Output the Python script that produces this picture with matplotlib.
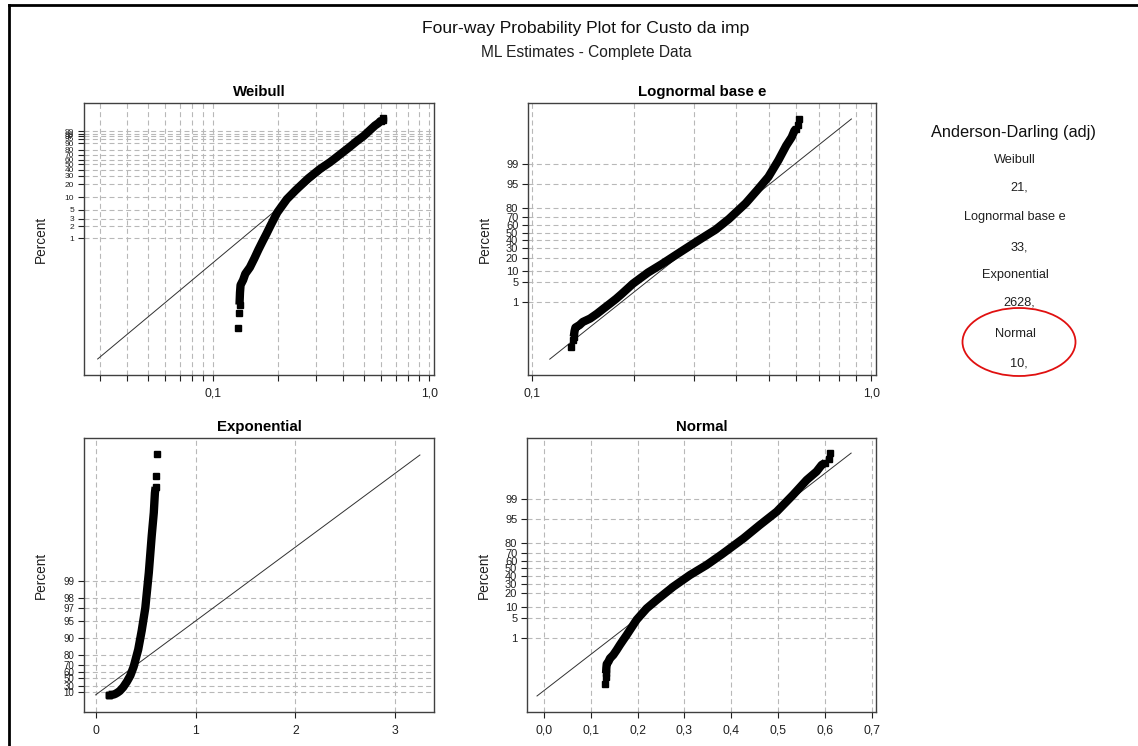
import math
import numpy as np
import matplotlib
matplotlib.use("Agg")
import matplotlib.pyplot as plt
from matplotlib.patches import Ellipse
from matplotlib.lines import Line2D
from matplotlib.ticker import FixedLocator, NullFormatter

plt.rcParams['font.family'] = ['Liberation Sans', 'DejaVu Sans']

# ---------------- data ----------------
# empirical distribution of "Custo da imp": value and plotting-position percent
sample_x = [0.1300, 0.1315, 0.1325, 0.1332, 0.1340, 0.1377, 0.1409, 0.1480,
            0.1552, 0.1620, 0.1694, 0.1767, 0.1836, 0.1980, 0.2193, 0.2407,
            0.2760, 0.3118, 0.3474, 0.3800, 0.4260, 0.4610, 0.4970, 0.5320,
            0.5610, 0.5820, 0.5930, 0.6000, 0.6090, 0.6110]
sample_pct = [0.0058, 0.0142, 0.0225, 0.045, 0.069, 0.092, 0.131, 0.19,
              0.317, 0.52, 0.84, 1.30, 1.97, 4.3, 9.0, 14.5,
              26.9, 41.1, 54.4, 68.0, 84.1, 92.6, 97.06, 99.29,
              99.84, 99.938, 99.972, 99.978, 99.986, 99.9942]
n_iso_low = 2    # isolated points at the bottom
n_iso_high = 2   # isolated points at the top

# fitted distributions (ML estimates)
weibull_shape, weibull_scale = 4.49, 0.380
logn_loc, logn_scale = -1.107, 0.2526
exp_mean = 0.334
norm_mean, norm_sd = 0.3378, 0.0827
line_pct = [0.001, 99.994]

# tick percents per panel
weibull_yticks = [1, 2, 3, 5, 10, 20, 30, 40, 50, 60, 70, 80, 90, 95, 97, 98, 99]
logn_yticks = [1, 5, 10, 20, 30, 40, 50, 60, 70, 80, 95, 99]
exp_yticks = [10, 30, 50, 60, 70, 80, 90, 95, 97, 98, 99]
norm_yticks = [1, 5, 10, 20, 30, 40, 50, 60, 70, 80, 95, 99]

weibull_xmajor = [0.1, 1.0]
weibull_xminor = [0.03, 0.04, 0.05, 0.06, 0.07, 0.08, 0.09,
                  0.2, 0.3, 0.4, 0.5, 0.6, 0.7, 0.8, 0.9]
logn_xmajor = [0.1, 1.0]
logn_xminor = [0.2, 0.3, 0.4, 0.5, 0.6, 0.7, 0.8, 0.9]
exp_xticks = [0, 1, 2, 3]
norm_xticks = [0.0, 0.1, 0.2, 0.3, 0.4, 0.5, 0.6, 0.7]

dist_names = ['Weibull', 'Lognormal base e', 'Exponential', 'Normal']
ad_values = ['21,', '33,', '2628,', '10,']

# ---------------- probability scale helpers ----------------
_a = [-3.969683028665376e+01, 2.209460984245205e+02, -2.759285104469687e+02,
      1.383577518672690e+02, -3.066479806614716e+01, 2.506628277459239e+00]
_b = [-5.447609879822406e+01, 1.615858368580409e+02, -1.556989798598866e+02,
      6.680131188771972e+01, -1.328068155288572e+01]
_c = [-7.784894002430293e-03, -3.223964580411365e-01, -2.400758277161838e+00,
      -2.549671348827961e+00, 4.374664141464968e+00, 2.938163982698783e+00]
_d = [7.784695709041462e-03, 3.224671290700398e-01, 2.445134137142996e+00,
      3.754408661907416e+00]


def norm_ppf(p):
    p = np.clip(np.asarray(p, dtype=float), 1e-300, 1 - 1e-16)
    out = np.empty_like(p)
    plow = 0.02425
    lo = p < plow
    hi = p > 1 - plow
    mid = ~(lo | hi)
    if lo.any():
        q = np.sqrt(-2 * np.log(p[lo]))
        out[lo] = (((((_c[0]*q+_c[1])*q+_c[2])*q+_c[3])*q+_c[4])*q+_c[5]) / \
                  ((((_d[0]*q+_d[1])*q+_d[2])*q+_d[3])*q+1)
    if hi.any():
        q = np.sqrt(-2 * np.log(1 - p[hi]))
        out[hi] = -(((((_c[0]*q+_c[1])*q+_c[2])*q+_c[3])*q+_c[4])*q+_c[5]) / \
                   ((((_d[0]*q+_d[1])*q+_d[2])*q+_d[3])*q+1)
    if mid.any():
        q = p[mid] - 0.5
        r = q * q
        out[mid] = (((((_a[0]*r+_a[1])*r+_a[2])*r+_a[3])*r+_a[4])*r+_a[5])*q / \
                   (((((_b[0]*r+_b[1])*r+_b[2])*r+_b[3])*r+_b[4])*r+1)
    return out


_erf = np.vectorize(math.erf)


def norm_cdf(z):
    return 0.5 * (1 + _erf(np.asarray(z, dtype=float) / math.sqrt(2)))


def normal_fwd(pct):
    return norm_ppf(np.asarray(pct, dtype=float) / 100.0)


def normal_inv(z):
    return 100.0 * norm_cdf(z)


def weibull_fwd(pct):
    p = np.clip(np.asarray(pct, dtype=float) / 100.0, 1e-300, 1 - 1e-16)
    return np.log(-np.log1p(-p))


def weibull_inv(w):
    return 100.0 * (-np.expm1(-np.exp(np.asarray(w, dtype=float))))


def exp_fwd(pct):
    p = np.minimum(np.asarray(pct, dtype=float) / 100.0, 1 - 1e-16)
    return -np.log1p(-p)


def exp_inv(u):
    return 100.0 * (-np.expm1(-np.asarray(u, dtype=float)))


# ---------------- figure ----------------
fig = plt.figure(figsize=(11.38, 7.46), dpi=100)
W, H = 1138.0, 746.0


def rect(l, r, t, b):
    return [l / W, 1 - b / H, (r - l) / W, (b - t) / H]


ax_w = fig.add_axes(rect(84, 434, 103, 375))
ax_l = fig.add_axes(rect(528, 876, 103, 375))
ax_e = fig.add_axes(rect(84, 434, 438, 712))
ax_n = fig.add_axes(rect(527, 876, 438, 712))

grid_kw = dict(color='#b8b8b8', linestyle=(0, (4.5, 3)), linewidth=0.8)

xs = np.array(sample_x)
ps = np.array(sample_pct)
body = slice(n_iso_low, len(xs) - n_iso_high)
iso = np.r_[0:n_iso_low, len(xs) - n_iso_high:len(xs)]
ends = np.r_[iso, n_iso_low, len(xs) - n_iso_high - 1]


def draw_panel(ax, title, fwd, inv, yticks, ylab_size, ylim_t, fit_x):
    ax.set_yscale('function', functions=(fwd, inv))
    # fitted line
    ax.plot(fit_x, line_pct, color='#303030', linewidth=0.7, zorder=3)
    # data
    ax.plot(xs[body], ps[body], color='black', linewidth=6.0,
            solid_capstyle='butt', solid_joinstyle='round', zorder=4)
    ax.plot(xs[ends], ps[ends], linestyle='none', marker='s', markersize=4.3,
            color='black', zorder=4)
    ax.set_ylim(inv(np.array(ylim_t)))
    ax.yaxis.set_major_locator(FixedLocator(yticks))
    ax.yaxis.set_minor_locator(FixedLocator([]))
    ax.set_yticklabels([str(t) for t in yticks], fontsize=ylab_size)
    ax.grid(True, which='both', axis='both', **grid_kw)
    ax.set_axisbelow(True)
    ax.set_title(title, fontsize=10.8, fontweight='bold', pad=5)
    ax.set_ylabel('Percent', fontsize=9.8, color='#202020')
    bb = ax.get_position()
    ax.yaxis.set_label_coords(-36.0 / (bb.width * W), 0.5)
    ax.tick_params(which='both', direction='out', length=4, width=0.8,
                   colors='#202020', pad=3)
    ax.tick_params(axis='x', labelsize=8.8, pad=5)
    for s in ax.spines.values():
        s.set_color('#404040')
        s.set_linewidth(1.0)


lp = np.array(line_pct) / 100.0

# Weibull
fit_w = weibull_scale * (-np.log1p(-lp)) ** (1.0 / weibull_shape)
draw_panel(ax_w, 'Weibull', weibull_fwd, weibull_inv, weibull_yticks, 6,
           [-12.43, 3.15], fit_w)
ax_w.set_xscale('log')
ax_w.set_xlim(0.0253, 1.051)
ax_w.xaxis.set_major_locator(FixedLocator(weibull_xmajor))
ax_w.xaxis.set_minor_locator(FixedLocator(weibull_xminor))
ax_w.set_xticklabels(['0,1', '1,0'])
ax_w.xaxis.set_minor_formatter(NullFormatter())

# Lognormal
fit_l = np.exp(logn_loc + logn_scale * norm_ppf(lp))
draw_panel(ax_l, 'Lognormal base e', normal_fwd, normal_inv, logn_yticks, 8,
           [-4.80, 4.385], fit_l)
ax_l.set_xscale('log')
ax_l.set_xlim(0.0971, 1.032)
ax_l.xaxis.set_major_locator(FixedLocator(logn_xmajor))
ax_l.xaxis.set_minor_locator(FixedLocator(logn_xminor))
ax_l.set_xticklabels(['0,1', '1,0'])
ax_l.xaxis.set_minor_formatter(NullFormatter())

# Exponential
fit_e = -exp_mean * np.log1p(-lp)
draw_panel(ax_e, 'Exponential', exp_fwd, exp_inv, exp_yticks, 7,
           [-0.694, 10.41], fit_e)
ax_e.set_xlim(-0.117, 3.388)
ax_e.xaxis.set_major_locator(FixedLocator(exp_xticks))
ax_e.set_xticklabels([str(t) for t in exp_xticks])

# Normal
fit_n = norm_mean + norm_sd * norm_ppf(lp)
draw_panel(ax_n, 'Normal', normal_fwd, normal_inv, norm_yticks, 8,
           [-4.80, 4.35], fit_n)
ax_n.set_xlim(-0.0363, 0.709)
ax_n.xaxis.set_major_locator(FixedLocator(norm_xticks))
ax_n.set_xticklabels([('%.1f' % t).replace('.', ',') for t in norm_xticks])

# titles
fig.text(586 / W, 1 - 28 / H, 'Four-way Probability Plot for Custo da imp',
         ha='center', va='center', fontsize=12.6, color='#101010')
fig.text(586 / W, 1 - 53 / H, 'ML Estimates - Complete Data',
         ha='center', va='center', fontsize=11.2, color='#202020')

# Anderson-Darling block
fig.text(1013 / W, 1 - 132 / H, 'Anderson-Darling (adj)', ha='center',
         va='center', fontsize=11.8, color='#101010')
name_y = [160, 217, 275, 334]
val_y = [188, 247, 303, 363]
for nm, v, yn, yv in zip(dist_names, ad_values, name_y, val_y):
    fig.text(1015 / W, 1 - yn / H, nm, ha='center', va='center',
             fontsize=9.2, color='#202020')
    fig.text(1019 / W, 1 - yv / H, v, ha='center', va='center',
             fontsize=9.2, color='#202020')

fig.patches.append(Ellipse((1019 / W, 1 - 342 / H), 113 / W, 68 / H,
                           transform=fig.transFigure, fill=False,
                           edgecolor='#e01010', linewidth=1.3))

# outer frame (left and top edges)
fig.add_artist(Line2D([8.5 / W, 8.5 / W], [0, 1 - 5 / H], color='black',
                      linewidth=2.0, transform=fig.transFigure))
fig.add_artist(Line2D([8.5 / W, 1], [1 - 5 / H, 1 - 5 / H], color='black',
                      linewidth=2.0, transform=fig.transFigure))

fig.savefig('out.png', dpi=100, facecolor='white')
